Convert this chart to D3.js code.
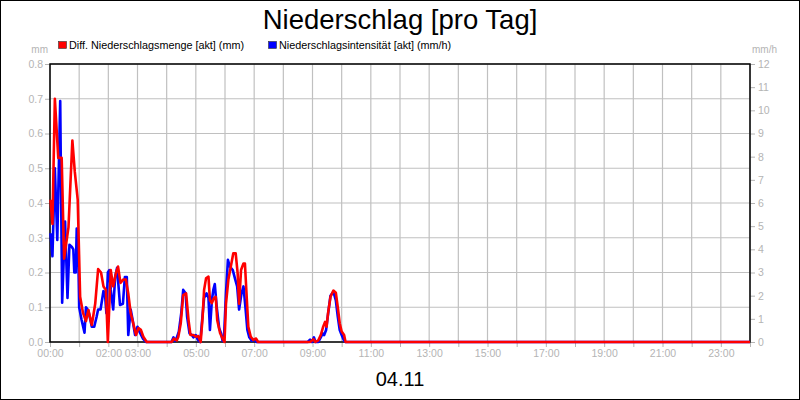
<!DOCTYPE html>
<html>
<head>
<meta charset="utf-8">
<script src="https://cdn.jsdelivr.net/npm/d3@7"></script>
<style>
  html, body { margin: 0; padding: 0; background: #fff; }
  svg { display: block; font-family: "Liberation Sans", Arial, sans-serif; }
</style>
</head>
<body>
<svg id="chart" width="800" height="400"></svg>
<script>
// ---------- data ----------
const title = "Niederschlag [pro Tag]";
const dateLabel = "04.11";
const seriesNames = ["Diff. Niederschlagsmenge [akt] (mm)", "Niederschlagsintensität [akt] (mm/h)"];
const seriesColors = ["#ff0000", "#0000ff"];
const leftUnit = "mm";
const rightUnit = "mm/h";
const leftTicks = [0, 0.1, 0.2, 0.3, 0.4, 0.5, 0.6, 0.7, 0.8];
const rightTicks = [0, 1, 2, 3, 4, 5, 6, 7, 8, 9, 10, 11, 12];
const gridHours = [0,1,2,3,4,5,6,7,8,9,10,11,12,13,14,15,16,17,18,19,20,21,22,23,24];
const labelHours = [0, 2, 3, 5, 7, 9, 11, 13, 15, 17, 19, 21, 23];

// Diff. Niederschlagsmenge (mm) – left axis
const redTimes = ["00:01","00:05","00:10","00:17","00:24","00:29","00:38","00:46","00:51","00:57",
  "01:02","01:08","01:14","01:19","01:26","01:33","01:39","01:45","01:50","01:55","01:59",
  "02:05","02:10","02:16","02:20","02:25","02:31","02:36","02:41","02:46","02:51","02:57",
  "03:02","03:07","03:12","03:19",
  "04:10","04:15","04:21","04:24","04:29","04:34","04:40","04:45","04:49","04:55","05:00","05:05","05:10",
  "05:14","05:17","05:21","05:26","05:29","05:33","05:37","05:41","05:44","05:50","05:55","05:59",
  "06:02","06:07","06:12","06:17","06:22","06:26","06:29","06:33","06:38","06:41","06:45","06:48",
  "06:53","06:58","07:04","07:08",
  "08:55","09:02","09:06","09:12","09:17","09:22","09:26","09:29","09:32","09:37","09:43","09:48",
  "09:52","09:56","10:00","10:05","10:08","24:00"];
const redValues = [0.41,0.34,0.70,0.53,0.53,0.24,0.33,0.58,0.49,0.41,
  0.13,0.083,0.06,0.092,0.049,0.11,0.21,0.20,0.16,0.15,0.0,
  0.207,0.16,0.20,0.217,0.17,0.18,0.18,0.14,0.083,0.055,0.02,
  0.04,0.035,0.015,0,
  0,0.01,0.005,0.015,0.054,0.135,0.14,0.063,0.02,0.02,0.015,0.017,0,
  0.073,0.15,0.183,0.188,0.12,0.112,0.126,0.13,0.063,0.025,0.01,0,
  0.11,0.18,0.217,0.255,0.255,0.198,0.11,0.207,0.226,0.226,0.12,0.044,
  0.015,0.006,0.01,0,
  0,0.008,0,0.005,0.02,0.044,0.058,0.044,0.083,0.13,0.148,0.142,
  0.10,0.054,0.03,0.02,0,0];

// Niederschlagsintensität (mm/h) – right axis
const blueTimes = ["00:01","00:05","00:10","00:15","00:21","00:25","00:31","00:36","00:40","00:45",
  "00:48","00:50","00:53","00:55","00:58","01:00","01:05","01:11","01:14","01:19","01:26","01:31",
  "01:36","01:39","01:44","01:50","01:53","01:56","01:59","02:02","02:05","02:10","02:14","02:18",
  "02:24","02:30","02:34","02:38","02:41","02:46","02:50","02:55","03:00","03:05","03:11","03:18",
  "04:10","04:14","04:17","04:21","04:25","04:30","04:34","04:39","04:42","04:47","04:52","04:55",
  "05:00","05:04","05:09","05:13","05:17","05:22","05:26","05:29","05:33","05:36","05:39","05:43",
  "05:48","05:52","05:55","05:58","06:02","06:06","06:10","06:16","06:21","06:25","06:29","06:34",
  "06:38","06:42","06:46","06:50","06:55","07:00","07:05",
  "08:50","08:55","08:59","09:03","09:06","09:12","09:17","09:21","09:24","09:28","09:32","09:37",
  "09:43","09:48","09:52","09:56","10:00","10:05","10:08","24:00"];
const blueValues = [4.7,3.7,7.5,4.4,10.4,1.7,5.2,1.9,4.2,4.1,
  4.0,3.0,3.0,4.9,4.1,1.5,0.95,0.4,1.5,1.35,0.66,0.66,
  1.1,1.4,1.4,2.2,2.1,1.25,3.0,3.1,2.25,1.4,2.8,3.2,
  1.6,1.65,2.8,2.8,0.3,1.4,0.95,0.3,0.66,0.4,0.15,0,
  0,0.2,0.05,0.2,0.45,1.24,2.25,2.1,1.1,0.37,0.3,0.2,
  0.3,0.1,0,0.95,1.9,2.1,1.9,0.52,1.8,2.25,2.5,1.5,
  0.6,0.37,0.05,0.2,2.1,3.55,3.25,3.1,2.7,2.4,1.4,2.1,
  2.4,1.5,0.52,0.2,0.05,0.1,0,
  0,0.1,0,0.2,0,0,0.2,0.37,0.3,0.52,1.2,2.0,
  2.17,1.8,1.1,0.52,0.3,0.05,0,0];

// ---------- helpers ----------
const toMin = s => { const [h, m] = s.split(":").map(Number); return h * 60 + m; };
const redData = redTimes.map((t, i) => ({ t: toMin(t), v: redValues[i] }));
const blueData = blueTimes.map((t, i) => ({ t: toMin(t), v: blueValues[i] }));

// ---------- layout ----------
const W = 800, H = 400;
const L = 50, R = 750, T = 64, B = 342;
const grey = "#b4b4b4", gridC = "#c0c0c0";

const svg = d3.select("#chart");
svg.append("rect").attr("x", 0.5).attr("y", 0.5).attr("width", W - 1).attr("height", H - 1)
  .attr("fill", "#fff").attr("stroke", "#000");

const x = d3.scaleLinear().domain([0, 1440]).range([L, R]);
const yL = d3.scaleLinear().domain([0, 0.8]).range([B, T]);
const yR = d3.scaleLinear().domain([0, 12]).range([B, T]);

// grid
const grid = svg.append("g");
grid.selectAll("line.v").data(gridHours).join("line")
  .attr("x1", d => x(d * 60)).attr("x2", d => x(d * 60))
  .attr("y1", T).attr("y2", B).attr("stroke", gridC).attr("stroke-width", 1.2);
grid.selectAll("line.h").data(leftTicks).join("line")
  .attr("x1", L).attr("x2", R)
  .attr("y1", d => yL(d)).attr("y2", d => yL(d)).attr("stroke", gridC).attr("stroke-width", 1.2);

// axes
function styleAxis(g) {
  g.select(".domain").remove();
  g.selectAll(".tick line").attr("stroke", grey);
  g.selectAll(".tick text").attr("fill", grey).style("font-size", "10.5px")
    .style("font-family", "'Liberation Sans', Arial, sans-serif");
}
svg.append("g").attr("transform", `translate(${L},0)`)
  .call(d3.axisLeft(yL).tickValues(leftTicks).tickSize(5).tickPadding(2).tickFormat(d3.format(".1f")))
  .call(styleAxis);
svg.append("g").attr("transform", `translate(${R},0)`)
  .call(d3.axisRight(yR).tickValues(rightTicks).tickSize(5).tickPadding(3).tickFormat(d3.format("d")))
  .call(styleAxis);
svg.append("g").attr("transform", `translate(0,${B})`)
  .call(d3.axisBottom(x).tickValues(gridHours.map(h => h * 60)).tickSize(5).tickPadding(3)
    .tickFormat(m => labelHours.includes(m / 60) ? String(m / 60).padStart(2, "0") + ":00" : ""))
  .call(styleAxis);

// frame
svg.append("rect").attr("x", L).attr("y", T).attr("width", R - L).attr("height", B - T)
  .attr("fill", "none").attr("stroke", "#000").attr("stroke-width", 1.5);

// lines
const lineR = d3.line().x(d => x(d.t)).y(d => yL(d.v));
const lineB = d3.line().x(d => x(d.t)).y(d => yR(d.v));
svg.append("path").datum(blueData).attr("d", lineB).attr("fill", "none")
  .attr("stroke", seriesColors[1]).attr("stroke-width", 2.6).attr("stroke-linejoin", "round");
svg.append("path").datum(redData).attr("d", lineR).attr("fill", "none")
  .attr("stroke", seriesColors[0]).attr("stroke-width", 2.6).attr("stroke-linejoin", "round");

// texts
svg.append("text").attr("x", 400).attr("y", 29).attr("text-anchor", "middle")
  .style("font-size", "27.5px").attr("fill", "#000").text(title);
svg.append("text").attr("x", 400).attr("y", 386).attr("text-anchor", "middle")
  .style("font-size", "20px").attr("fill", "#000").text(dateLabel);
svg.append("text").attr("x", 48).attr("y", 53).attr("text-anchor", "end")
  .style("font-size", "10px").attr("fill", grey).text(leftUnit);
svg.append("text").attr("x", 752).attr("y", 53).attr("text-anchor", "start")
  .style("font-size", "10px").attr("fill", grey).text(rightUnit);

// legend
const legendX = [58, 268];
seriesNames.forEach((name, i) => {
  svg.append("rect").attr("x", legendX[i] + 0.5).attr("y", 41.5).attr("width", 8).attr("height", 7)
    .attr("fill", seriesColors[i]).attr("stroke", "#333").attr("stroke-width", 0.6);
  svg.append("text").attr("x", legendX[i] + 11).attr("y", 49).style("font-size", "10.8px")
    .attr("fill", "#000").text(name);
});
</script>
</body>
</html>
